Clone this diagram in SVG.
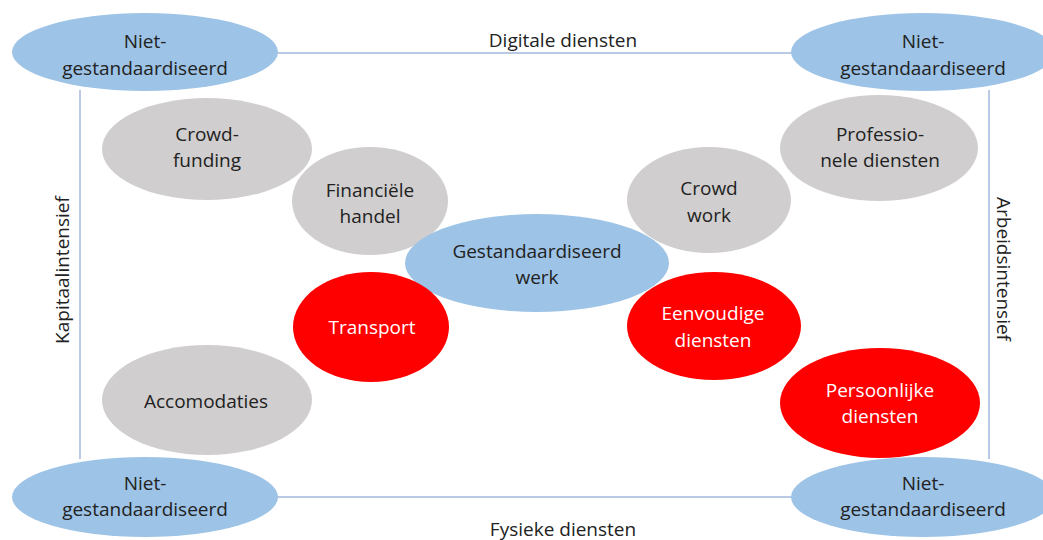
<svg xmlns="http://www.w3.org/2000/svg" width="1043" height="540" viewBox="0 0 1043 540">
<style>
.t{font-family:"Open Sans","Liberation Sans",sans-serif;font-size:19px;fill:#222222;text-anchor:middle}
.w{fill:#ffffff}
.blue{fill:#9DC3E6}
.gray{fill:#D0CECE}
.red{fill:#FF0000}
.ln{stroke:#A3B9DD;stroke-width:1.5;fill:none}
</style>
<rect width="1043" height="540" fill="#ffffff"/>
<g id="connectors">
<line class="ln" x1="277" y1="53" x2="792" y2="53"/>
<line class="ln" x1="277" y1="497" x2="792" y2="497"/>
<line class="ln" x1="80" y1="90" x2="80" y2="459"/>
<line class="ln" x1="989" y1="90" x2="989" y2="459"/>
</g>
<g id="label-digitaal"><text class="t" x="563" y="47">Digitale diensten</text></g>
<g id="label-fysiek"><text class="t" x="563" y="536">Fysieke diensten</text></g>
<g id="label-kapitaal"><text class="t" transform="translate(69,270) rotate(-90)">Kapitaalintensief</text></g>
<g id="label-arbeid"><text class="t" transform="translate(997,269) rotate(90)">Arbeidsintensief</text></g>
<g id="crowdfunding"><ellipse class="gray" cx="207" cy="149" rx="105" ry="51"/><text class="t" x="207" y="141">Crowd-</text><text class="t" x="207" y="167">funding</text></g>
<g id="financiele-handel"><ellipse class="gray" cx="370" cy="201" rx="78" ry="54"/><text class="t" x="370" y="197">Financiële</text><text class="t" x="370" y="223">handel</text></g>
<g id="crowd-work"><ellipse class="gray" cx="709" cy="200" rx="82" ry="53"/><text class="t" x="709" y="195">Crowd</text><text class="t" x="709" y="222">work</text></g>
<g id="professionele-diensten"><ellipse class="gray" cx="879" cy="148" rx="99" ry="53"/><text class="t" x="880" y="141">Professio-</text><text class="t" x="880" y="167">nele diensten</text></g>
<g id="accomodaties"><ellipse class="gray" cx="207" cy="400" rx="105" ry="55"/><text class="t" x="206" y="408">Accomodaties</text></g>
<g id="gestandaardiseerd-werk"><ellipse class="blue" cx="537" cy="263" rx="132" ry="49"/><text class="t" x="537" y="258">Gestandaardiseerd</text><text class="t" x="537" y="284">werk</text></g>
<g id="transport"><ellipse class="red" cx="371" cy="327" rx="78" ry="55"/><text class="t w" x="372" y="334">Transport</text></g>
<g id="eenvoudige-diensten"><ellipse class="red" cx="714" cy="326" rx="87" ry="54"/><text class="t w" x="713" y="320">Eenvoudige</text><text class="t w" x="713" y="347">diensten</text></g>
<g id="persoonlijke-diensten"><ellipse class="red" cx="880" cy="403" rx="100" ry="55"/><text class="t w" x="880" y="397">Persoonlijke</text><text class="t w" x="880" y="423">diensten</text></g>
<g id="niet-tl"><ellipse class="blue" cx="145" cy="52" rx="133" ry="39"/><text class="t" x="145" y="48">Niet-</text><text class="t" x="145" y="75">gestandaardiseerd</text></g>
<g id="niet-tr"><ellipse class="blue" cx="923" cy="52" rx="132" ry="39"/><text class="t" x="923" y="48">Niet-</text><text class="t" x="923" y="75">gestandaardiseerd</text></g>
<g id="niet-bl"><ellipse class="blue" cx="145" cy="497" rx="133" ry="40"/><text class="t" x="145" y="490">Niet-</text><text class="t" x="145" y="516">gestandaardiseerd</text></g>
<g id="niet-br"><ellipse class="blue" cx="923" cy="497" rx="132" ry="40"/><text class="t" x="923" y="490">Niet-</text><text class="t" x="923" y="516">gestandaardiseerd</text></g>
</svg>
